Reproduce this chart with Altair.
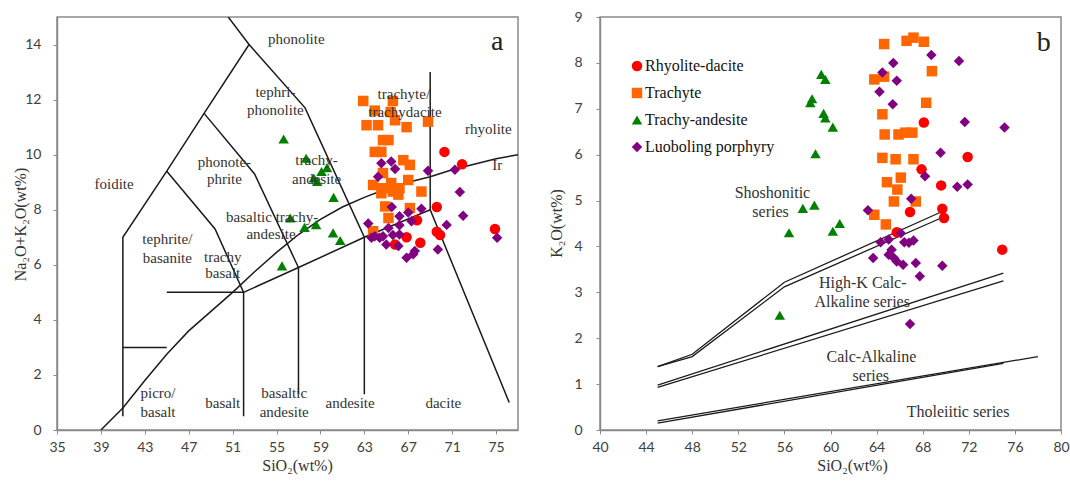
import altair as alt
import pandas as pd

GROUPS = ["Rhyolite-dacite", "Trachyte", "Trachy-andesite", "Luoboling porphyry"]
COLORS = ["#FF0000", "#FF6600", "#008000", "#800080"]
SHAPES = ["circle", "square", "triangle-up", "diamond"]

# ---------------- Panel a (TAS) data ----------------
red_a_x = [70.3, 71.9, 69.6, 67.8, 69.6, 69.9, 66.85, 68.1, 65.8, 74.9]
red_a_y = [10.1, 9.65, 8.1, 7.62, 7.2, 7.08, 7.0, 6.8, 6.74, 7.3]

orange_a_x = [62.9, 65.6, 63.95, 65.4, 65.8, 63.2, 64.25, 66.85, 68.8,
              64.7, 65.2, 63.95, 64.55, 66.55, 67.15, 64.7,
              63.8, 64.7, 65.45, 65.6, 66.2, 67.0, 68.2, 64.55, 66.1,
              64.9, 67.15, 65.2, 63.8]
orange_a_y = [11.95, 11.95, 11.6, 11.55, 11.25, 11.07, 11.07, 11.0, 11.2,
              10.53, 10.53, 10.1, 10.1, 9.8, 9.63, 9.33,
              8.9, 8.78, 8.97, 8.66, 8.78, 9.08, 8.66, 8.6, 8.55,
              8.12, 8.06, 7.7, 7.22]

green_a_x = [55.65, 57.7, 59.6, 59.1, 58.4, 58.7, 60.2, 56.25, 57.55, 58.6, 60.15, 60.8, 55.5]
green_a_y = [10.57, 9.87, 9.53, 9.39, 9.15, 9.03, 8.45, 7.7, 7.36, 7.46, 7.16, 6.88, 5.96]

purple_a_x = [64.55, 65.45, 65.8, 64.25, 68.8, 71.25, 71.7, 72.0,
              65.5, 68.2, 67.0, 66.2, 63.35, 67.3, 66.2, 70.5, 65.2,
              63.95, 64.7, 65.6, 66.2, 63.65, 64.4, 65.0, 66.1, 67.6, 66.85, 67.45, 69.7, 75.1]
purple_a_y = [9.69, 9.75, 9.48, 9.2, 9.42, 9.45, 8.64, 7.78,
              8.1, 8.04, 7.9, 7.76, 7.5, 7.58, 7.44, 7.45, 7.34,
              7.04, 7.04, 7.08, 7.1, 6.98, 6.98, 6.74, 6.68, 6.5, 6.26, 6.38, 6.56, 6.98]

# TAS field boundaries (polylines)
tas_lines = [
    ([41, 41, 45, 48.4, 52.5, 50.6], [0.5, 7, 9.4, 11.5, 14, 15]),
    ([41, 45], [3, 3]),
    ([45, 49.4, 52, 52], [9.4, 7.3, 5, 0.5]),
    ([45, 52], [5, 5]),
    ([48.4, 53, 57, 57], [11.5, 9.3, 5.9, 1.3]),
    ([52.5, 57.6, 63, 63], [14, 11.7, 7, 1.3]),
    ([52, 57, 63, 69, 76.2], [5, 5.9, 7, 8, 1.0]),
    ([69, 69], [13, 8]),
]
irvine_x = [39, 41, 43, 45, 47, 49, 51, 53, 55, 57, 59, 61, 63, 65, 67, 69, 71, 73, 75, 77]
irvine_y = [0, 0.8, 1.8, 2.75, 3.6, 4.3, 5.0, 5.75, 6.45, 7.1, 7.65, 8.1, 8.45, 8.75, 9.0, 9.2, 9.45, 9.65, 9.85, 10.0]

labels_a_text = ["phonolite", "tephri-", "phonolite", "foidite", "phonote-", "phrite",
                 "trachy-", "andesite", "trachyte/", "trachydacite", "rhyolite", "Ir",
                 "basaltic trachy-", "andesite", "tephrite/", "basanite", "trachy", "basalt",
                 "picro/", "basalt", "basalt", "basaltic", "andesite", "andesite", "dacite"]
labels_a_x = [56.8, 54.9, 54.9, 40.2, 50.25, 50.25,
              58.65, 58.65, 66.6, 66.7, 74.3, 75.1,
              54.6, 54.5, 45.05, 45.05, 50.1, 50.1,
              44.2, 44.2, 50.1, 55.7, 55.7, 61.7, 70.2]
labels_a_y = [14.2, 12.27, 11.62, 8.95, 9.75, 9.1,
              9.82, 9.13, 12.2, 11.55, 10.94, 9.63,
              7.72, 7.12, 6.93, 6.25, 6.3, 5.7,
              1.33, 0.65, 0.97, 1.33, 0.65, 0.97, 0.97]

# ---------------- Panel b (K2O) data ----------------
red_b_x = [68.1, 71.9, 67.9, 69.6, 66.9, 69.7, 69.85, 65.75, 74.9]
red_b_y = [6.7, 5.95, 5.68, 5.33, 4.75, 4.82, 4.62, 4.31, 3.93]

orange_b_x = [64.65, 66.6, 67.2, 68.1, 63.8, 64.65, 68.8, 68.3, 64.5, 64.7, 65.9, 66.5,
              67.1, 64.5, 65.65, 67.2, 64.9, 66.1, 65.8, 65.5, 67.4, 63.8, 64.8]
orange_b_y = [8.41, 8.48, 8.55, 8.46, 7.64, 7.7, 7.82, 7.13, 6.88, 6.44, 6.44, 6.48,
              6.48, 5.93, 5.9, 5.9, 5.4, 5.5, 5.24, 4.98, 4.98, 4.69, 4.48]

green_b_x = [59.2, 59.55, 58.4, 58.25, 59.4, 59.55, 60.2, 58.7, 57.6, 58.6, 60.8, 60.2, 56.4, 55.6]
green_b_y = [7.75, 7.64, 7.22, 7.13, 6.9, 6.8, 6.6, 6.02, 4.83, 4.9, 4.5, 4.33, 4.3, 2.5]

purple_b_x = [68.75, 71.15, 65.45, 64.5, 65.75, 64.25, 65.4, 71.65, 75.1, 69.55, 68.2, 71.0,
              71.9, 67.0, 63.25, 66.1, 64.35, 65.05, 66.4, 66.8, 67.2, 65.3, 65.05, 63.7,
              65.5, 65.75, 66.3, 67.4, 69.7, 67.75, 66.9]
purple_b_y = [8.17, 8.04, 8.0, 7.79, 7.61, 7.37, 7.1, 6.71, 6.59, 6.04, 5.53, 5.3,
              5.35, 5.04, 4.79, 4.29, 4.09, 4.15, 4.09, 4.08, 4.13, 3.93, 3.82, 3.75,
              3.75, 3.67, 3.6, 3.64, 3.58, 3.35, 2.31]

k_lines = [
    ([45, 48, 56, 69.6], [1.38, 1.65, 3.22, 4.75]),
    ([45, 48, 56, 69.6], [1.38, 1.6, 3.12, 4.62]),
    ([45, 75], [0.98, 3.42]),
    ([45, 75], [0.93, 3.25]),
    ([45, 78], [0.2, 1.6]),
    ([45, 75], [0.15, 1.45]),
]

labels_b_text = ["Shoshonitic", "series", "High-K Calc-", "Alkaline series",
                 "Calc-Alkaline", "series", "Tholeiitic series"]
labels_b_x = [54.96, 54.8, 62.8, 62.75, 63.55, 63.5, 71.07]
labels_b_y = [5.17, 4.76, 3.2, 2.78, 1.6, 1.18, 0.4]


def points_df(sets):
    rows = []
    for g, xs, ys in sets:
        for x, y in zip(xs, ys):
            rows.append({"group": g, "x": x, "y": y})
    return pd.DataFrame(rows)


def lines_df(lines):
    rows = []
    for k, (xs, ys) in enumerate(lines):
        for i, (x, y) in enumerate(zip(xs, ys)):
            rows.append({"line": k, "i": i, "x": x, "y": y})
    return pd.DataFrame(rows)


pts_a = points_df([(GROUPS[0], red_a_x, red_a_y), (GROUPS[1], orange_a_x, orange_a_y),
                   (GROUPS[2], green_a_x, green_a_y), (GROUPS[3], purple_a_x, purple_a_y)])
pts_b = points_df([(GROUPS[0], red_b_x, red_b_y), (GROUPS[1], orange_b_x, orange_b_y),
                   (GROUPS[2], green_b_x, green_b_y), (GROUPS[3], purple_b_x, purple_b_y)])

lines_a = lines_df(tas_lines + [(irvine_x, irvine_y)])
lines_b = lines_df(k_lines)
lab_a = pd.DataFrame({"t": labels_a_text, "x": labels_a_x, "y": labels_a_y})
lab_b = pd.DataFrame({"t": labels_b_text, "x": labels_b_x, "y": labels_b_y})

AX = dict(grid=False, domainColor="#8a8a8a", domainWidth=1.5, tickColor="#8a8a8a", tickSize=4,
          labelFont="Lato", labelFontSize=14, labelColor="#404040", labelOverlap=False,
          labelFlush=False, titleFont="Liberation Serif", titleFontSize=16,
          titleFontWeight="normal", titleColor="#333333", titleAlign="center",
          titleBaseline="middle")

W, H = 461, 413

# ---------------- Panel a ----------------
xa = alt.X("x:Q", scale=alt.Scale(domain=[35, 77], nice=False, zero=False),
           axis=alt.Axis(values=list(range(35, 78, 2)),
                         labelExpr="datum.value % 4 == 3 ? datum.label : ''",
                         title="SiO₂(wt%)", titleX=240, titleY=35, labelPadding=6, **AX))
ya = alt.Y("y:Q", scale=alt.Scale(domain=[0, 15], nice=False),
           axis=alt.Axis(values=list(range(0, 16)),
                         labelExpr="datum.value % 2 == 0 ? datum.label : ''",
                         title="Na₂O+K₂O(wt%)", titleX=-37, titleY=207, labelPadding=12, **AX))

base_a = alt.Chart(lines_a).mark_line(color="#1a1a1a", strokeWidth=1.5, clip=True).encode(
    x=xa, y=ya, detail="line:N", order="i:Q")
pts_layer_a = alt.Chart(pts_a).mark_point(filled=True, opacity=1, size=110, strokeWidth=0).encode(
    x="x:Q", y="y:Q",
    color=alt.Color("group:N", scale=alt.Scale(domain=GROUPS, range=COLORS), legend=None),
    shape=alt.Shape("group:N", scale=alt.Scale(domain=GROUPS, range=SHAPES), legend=None))
txt_a = alt.Chart(lab_a).mark_text(font="Liberation Serif", fontSize=15, color="#333333",
                                   baseline="middle").encode(x="x:Q", y="y:Q", text="t:N")
tag_a = alt.Chart(pd.DataFrame({"t": ["a"], "x": [75.1], "y": [14.1]})).mark_text(
    font="Liberation Serif", fontSize=28, color="#222222", baseline="middle").encode(
    x="x:Q", y="y:Q", text="t:N")

panel_a = alt.layer(base_a, pts_layer_a, txt_a, tag_a).properties(width=W, height=H)

# ---------------- Panel b ----------------
xb = alt.X("x:Q", scale=alt.Scale(domain=[40, 80], nice=False, zero=False),
           axis=alt.Axis(values=list(range(40, 81, 2)),
                         labelExpr="datum.value % 4 == 0 ? datum.label : ''",
                         title="SiO₂(wt%)", titleX=252, titleY=35, labelPadding=6, **AX))
yb = alt.Y("y:Q", scale=alt.Scale(domain=[0, 9], nice=False),
           axis=alt.Axis(values=[v / 2 for v in range(0, 19)],
                         labelExpr="datum.value % 1 == 0 ? datum.label : ''",
                         title="K₂O(wt%)", titleX=-44, titleY=206, labelPadding=14, **AX))

base_b = alt.Chart(lines_b).mark_line(color="#1a1a1a", strokeWidth=1.3, clip=True).encode(
    x=xb, y=yb, detail="line:N", order="i:Q")
leg = alt.Legend(orient="none", legendX=29, legendY=41, title=None, labelFont="Liberation Serif",
                 labelFontSize=16, labelColor="#111111", symbolSize=110, rowPadding=11,
                 labelOffset=0, padding=0, symbolStrokeWidth=0)
pts_layer_b = alt.Chart(pts_b).mark_point(filled=True, opacity=1, size=110, strokeWidth=0).encode(
    x="x:Q", y="y:Q",
    color=alt.Color("group:N", scale=alt.Scale(domain=GROUPS, range=COLORS), legend=leg),
    shape=alt.Shape("group:N", scale=alt.Scale(domain=GROUPS, range=SHAPES), legend=leg))
txt_b = alt.Chart(lab_b).mark_text(font="Liberation Serif", fontSize=16, color="#333333",
                                   baseline="middle").encode(x="x:Q", y="y:Q", text="t:N")
tag_b = alt.Chart(pd.DataFrame({"t": ["b"], "x": [78.5], "y": [8.44]})).mark_text(
    font="Liberation Serif", fontSize=28, color="#222222", baseline="middle").encode(
    x="x:Q", y="y:Q", text="t:N")

panel_b = alt.layer(base_b, pts_layer_b, txt_b, tag_b).properties(width=W, height=H)

chart = alt.hconcat(panel_a, panel_b, spacing=28).resolve_scale(
    color="independent", shape="independent").properties(
    padding={"left": 11, "top": 9, "right": 0, "bottom": 2},
    background="white").configure_view(stroke="#8a8a8a", strokeWidth=1.5)

chart.save("out.html", embed_options={"renderer": "svg", "actions": False})
